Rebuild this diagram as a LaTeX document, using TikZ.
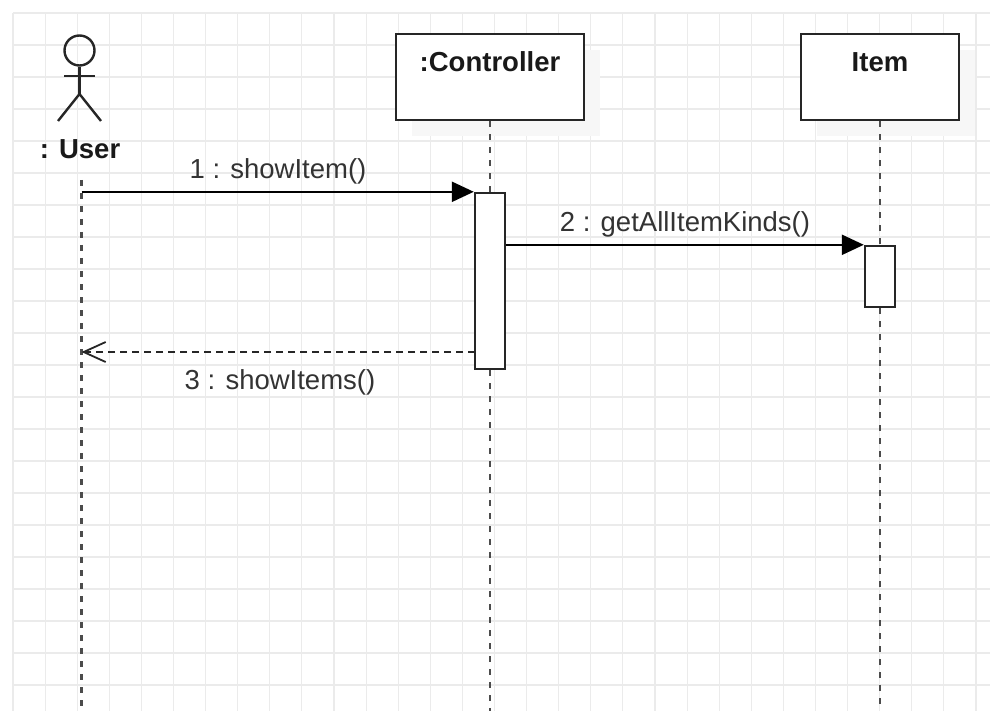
\documentclass[tikz,border=0pt]{standalone}
\usepackage{fontspec}
\setmainfont{Liberation Sans}
\usetikzlibrary{arrows.meta,calc}
\begin{document}
\begin{tikzpicture}[x=1pt,y=-1pt,
  gridline/.style={draw=black!8,line width=1.1pt},
  objbox/.style={draw=black!85,line width=2.4pt,fill=white,rectangle,minimum width=#1,minimum height=86pt,inner sep=0pt},
  shadowbox/.style={fill=black!3,rectangle,minimum width=#1,minimum height=86pt,inner sep=0pt},
  actbox/.style={draw=black!85,line width=2.4pt,fill=white,rectangle,minimum width=30pt,inner sep=0pt},
  lifeline/.style={draw=black!70,line width=2.5pt,dash pattern=on 6pt off 7pt},
  boldlbl/.style={font=\fontsize{27.5}{30}\selectfont\bfseries,text=black!90,inner sep=0pt,anchor=base},
  msglbl/.style={font=\fontsize{27.5}{30}\selectfont,text=black!80,inner sep=0pt,anchor=base},
  callmsg/.style={draw=black,line width=2.4pt,-{Triangle[length=22pt,width=20pt]}},
  retmsg/.style={draw=black!85,line width=2.4pt,dash pattern=on 7pt off 5pt,-{Straight Barb[length=22pt,width=20pt,line width=1.8pt]}},
  actor/.style={draw=black!85,line width=2.4pt}
]
\useasboundingbox (0,0) rectangle (990,711);
\fill[white] (0,0) rectangle (990,711);
% grid
\foreach \i in {0,...,30} {\draw[gridline] (13+\i*32.1,13) -- (13+\i*32.1,711);}
\foreach \j in {0,...,21} {\draw[gridline] (13,13+\j*32) -- (990,13+\j*32);}

% shadows
\node[shadowbox=188pt] (ctrlsh) at (506,93) {};
\node[shadowbox=158pt] (itemsh) at (896,93) {};

% object boxes
\node[objbox=188pt] (ctrl) at (490,77) {};
\node[objbox=158pt] (item) at (880,77) {};
\node[boldlbl] (ctrllbl) at (490,72) {:Controller};
\node[boldlbl] (itemlbl) at (880,72) {Item};

% actor
\node[draw=black!85,line width=2.4pt,circle,minimum size=30pt,inner sep=0pt] (head) at (79.5,50.5) {};
\coordinate (hip) at (79.5,94);
\draw[actor] (head.south) -- (hip);
\draw[actor] (64,76) -- (95,76);
\draw[actor] (58,121) -- (hip) -- (101,121);
\node[boldlbl] (userlbl) at (80,159) {: User};

% activation boxes
\node[actbox,minimum height=176pt] (act1) at (490,281) {};
\node[actbox,minimum height=61pt] (act2) at (880,276.5) {};

% lifelines
\coordinate (utop) at (81.5,180);
\coordinate (ubot) at (81.5,711);
\coordinate (cbot) at (490,711);
\coordinate (ibot) at (880,711);
\draw[lifeline] (utop) -- (ubot);
\draw[lifeline] (ctrl.south) -- (act1.north);
\draw[lifeline] (act1.south) -- (cbot);
\draw[lifeline] (item.south) -- (act2.north);
\draw[lifeline] (act2.south) -- (ibot);

% messages
\coordinate (m1s) at (utop |- act1.north);
\draw[callmsg] (m1s) -- (act1.north west);
\node[msglbl] (m1lbl) at (278,179) {1 : showItem()};

\coordinate (m2s) at (act1.east |- act2.north);
\draw[callmsg] (m2s) -- (act2.north west);
\node[msglbl] (m2lbl) at (685,232) {2 : getAllItemKinds()};

\coordinate (m3s) at (475,352);
\coordinate (m3e) at (utop |- m3s);
\draw[retmsg] (m3s) -- (m3e);
\node[msglbl] (m3lbl) at (280,389) {3 : showItems()};
\end{tikzpicture}
\end{document}
